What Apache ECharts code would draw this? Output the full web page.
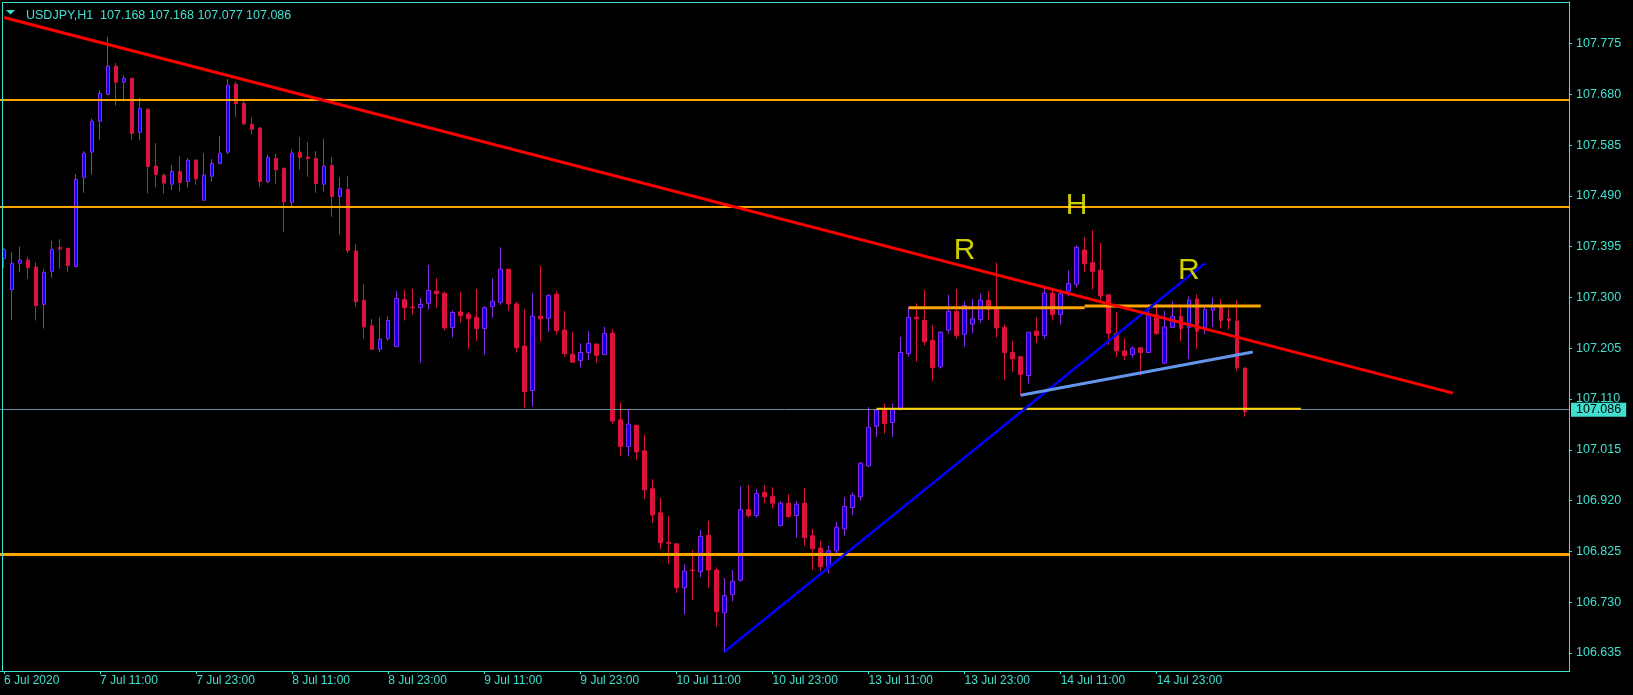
<!DOCTYPE html>
<html>
<head>
<meta charset="utf-8">
<script src="https://cdn.jsdelivr.net/npm/echarts@6/dist/echarts.min.js"></script>
<style>
html,body{margin:0;padding:0;background:#000;}
#chart{width:1633px;height:695px;}
</style>
</head>
<body>
<div id="chart"></div>
<script>
// ---- data ----
const symbolName = 'USDJPY,H1';
const opens = [107.373,107.315,107.364,107.370,107.357,107.287,107.349,107.394,107.392,107.358,
107.525,107.572,107.630,107.680,107.733,107.703,107.710,107.609,107.652,107.546,
107.529,107.512,107.536,107.517,107.557,107.482,107.527,107.551,107.572,107.699,
107.663,107.624,107.617,107.517,107.560,107.542,107.478,107.572,107.563,107.560,
107.512,107.547,107.489,107.502,107.387,107.295,107.247,107.203,107.223,107.208,
107.296,107.282,107.281,107.289,107.312,107.308,107.244,107.273,107.269,107.263,
107.242,107.283,107.291,107.353,107.288,107.209,107.126,107.265,107.261,107.306,
107.239,107.194,107.182,107.197,107.213,107.193,107.233,107.071,107.021,107.061,
107.013,106.942,106.897,106.842,106.839,106.757,106.790,106.787,106.855,106.790,
106.710,106.744,106.771,106.903,106.892,106.935,106.928,106.873,106.915,106.892,
106.915,106.854,106.831,106.795,106.826,106.867,106.907,106.927,106.985,107.059,
107.091,107.066,107.091,107.195,107.263,107.257,107.220,107.170,107.239,107.274,
107.231,107.250,107.259,107.295,107.278,107.244,107.197,107.189,107.154,107.237,
107.229,107.308,107.268,107.312,107.325,107.389,107.365,107.351,107.305,107.233,
107.200,107.193,107.206,107.197,107.268,107.177,107.244,107.265,107.244,107.297,
107.244,107.276,107.285,107.260,107.256,107.168];
const closes = [107.390,107.364,107.370,107.356,107.285,107.347,107.390,107.391,107.360,107.521,
107.570,107.630,107.682,107.733,107.703,107.710,107.607,107.654,107.545,107.530,
107.514,107.536,107.515,107.557,107.522,107.529,107.551,107.570,107.697,107.663,
107.625,107.615,107.517,107.562,107.539,107.479,107.570,107.562,107.560,107.513,
107.546,107.489,107.504,107.388,107.292,107.245,107.203,107.222,107.257,107.298,
107.281,107.281,107.287,107.313,107.307,107.243,107.272,107.266,107.260,107.242,
107.281,107.293,107.353,107.288,107.206,107.124,107.265,107.260,107.304,107.238,
107.195,107.179,107.197,107.214,107.192,107.233,107.069,107.021,107.063,107.011,
106.940,106.893,106.841,106.840,106.757,106.788,106.789,106.853,106.790,106.712,
106.742,106.769,106.903,106.892,106.933,106.927,106.915,106.915,106.890,106.913,
106.851,106.830,106.796,106.826,106.870,106.909,106.930,106.990,107.057,107.089,
107.064,107.092,107.197,107.263,107.260,107.217,107.169,107.235,107.274,107.229,
107.285,107.260,107.295,107.278,107.243,107.197,107.185,107.156,107.235,107.229,
107.308,107.268,107.307,107.326,107.394,107.363,107.349,107.303,107.233,107.200,
107.191,107.205,107.197,107.268,107.232,107.245,107.265,107.242,107.295,107.237,
107.277,107.283,107.257,107.257,107.169,107.086];
const highs = [107.393,107.385,107.395,107.376,107.366,107.353,107.406,107.409,107.393,107.531,
107.574,107.635,107.688,107.788,107.739,107.715,107.712,107.674,107.655,107.589,
107.532,107.548,107.565,107.561,107.559,107.570,107.559,107.602,107.709,107.704,
107.668,107.637,107.619,107.567,107.569,107.542,107.577,107.600,107.591,107.574,
107.597,107.563,107.525,107.527,107.400,107.325,107.260,107.263,107.265,107.312,
107.314,107.316,107.299,107.361,107.336,107.311,107.276,107.311,107.273,107.316,
107.284,107.336,107.394,107.353,107.292,107.278,107.308,107.359,107.306,107.312,
107.275,107.236,107.214,107.237,107.213,107.245,107.241,107.104,107.091,107.061,
107.043,106.960,106.925,106.891,106.840,106.801,106.827,106.865,106.882,106.795,
106.775,106.790,106.947,106.949,106.941,106.949,106.945,106.919,106.932,106.919,
106.943,106.867,106.845,106.836,106.880,106.926,106.935,106.992,107.095,107.089,
107.102,107.102,107.226,107.282,107.289,107.314,107.248,107.237,107.305,107.316,
107.292,107.297,107.307,107.312,107.365,107.250,107.219,107.190,107.235,107.263,
107.321,107.317,107.315,107.351,107.398,107.413,107.426,107.402,107.305,107.273,
107.224,107.209,107.206,107.287,107.289,107.275,107.293,107.282,107.302,107.306,
107.282,107.300,107.297,107.279,107.295,107.168];
const lows = [107.355,107.258,107.348,107.335,107.257,107.242,107.337,107.354,107.348,107.356,
107.496,107.530,107.595,107.678,107.659,107.667,107.594,107.594,107.495,107.506,
107.494,107.501,107.499,107.506,107.511,107.482,107.517,107.549,107.568,107.638,
107.622,107.605,107.507,107.514,107.513,107.423,107.468,107.539,107.526,107.496,
107.498,107.451,107.418,107.383,107.283,107.223,107.203,107.198,107.219,107.208,
107.257,107.268,107.178,107.277,107.281,107.238,107.225,107.253,107.204,107.219,
107.193,107.262,107.286,107.275,107.197,107.094,107.096,107.217,107.236,107.231,
107.189,107.179,107.169,107.183,107.178,107.193,107.063,107.003,107.003,106.996,
106.923,106.878,106.829,106.801,106.747,106.707,106.734,106.776,106.757,106.684,
106.635,106.731,106.768,106.888,106.888,106.915,106.905,106.873,106.888,106.850,
106.835,106.790,106.788,106.784,106.817,106.854,106.893,106.920,106.983,107.039,
107.045,107.039,107.088,107.189,107.180,107.210,107.144,107.167,107.232,107.223,
107.208,107.233,107.253,107.258,107.225,107.146,107.161,107.116,107.139,107.215,
107.223,107.257,107.249,107.302,107.319,107.348,107.315,107.295,107.211,107.189,
107.183,107.187,107.154,107.197,107.232,107.177,107.243,107.218,107.185,107.204,
107.231,107.245,107.242,107.240,107.163,107.077];

// time-axis tick labels (one every 12 bars)
const tickLabels = ['6 Jul 2020','7 Jul 11:00','7 Jul 23:00','8 Jul 11:00','8 Jul 23:00','9 Jul 11:00',
  '9 Jul 23:00','10 Jul 11:00','10 Jul 23:00','13 Jul 11:00','13 Jul 23:00','14 Jul 11:00','14 Jul 23:00'];
// price-axis tick labels
const priceTicks = [106.635,106.730,106.825,106.920,107.015,107.110,107.205,107.300,107.395,107.490,107.585,107.680,107.775];

// drawn objects: [barIndex, price]
const redTrend = [[0,107.824],[181,107.121]];
const blueTrend = [[90,106.637],[150,107.364]];
const lightBlueTrend = [[127,107.117],[156,107.198]];
const orangeLevels = [107.674,107.470];
const orangeLevelThick = 106.822;
const orangeShortA = [[113,107.281],[135,107.281]];
const orangeShortB = [[135,107.284],[157,107.284]];
const yellowLevel = [[109,107.092],[162,107.092]];
const annotations = [[120,107.387,'R'],[134,107.472,'H'],[148,107.351,'R']];

// hourly categories (weekend skipped), including empty future bars on the right
const months = ['Jan','Feb','Mar','Apr','May','Jun','Jul','Aug','Sep','Oct','Nov','Dec'];
const totalSlots = 196;
const categories = [];
let t = Date.UTC(2020,6,6,23);
while (categories.length < totalSlots) {
  const d = new Date(t);
  const dow = d.getUTCDay();
  if (dow !== 0 && dow !== 6) {
    categories.push(d.getUTCDate()+' '+months[d.getUTCMonth()]+' '+String(d.getUTCHours()).padStart(2,'0')+':00');
  }
  t += 3600000;
}

const candleData = opens.map((o,i)=>[o, closes[i], lows[i], highs[i]]);
const last = opens.length-1;
const fmt = v => v.toFixed(3);
const CYAN = '#40E0D0';
const FONT = 'Liberation Sans, Arial, sans-serif';

const isLabelIdx = (i) => i % 12 === 0 && i/12 < tickLabels.length;

function seg(data, color, width, z) {
  return {type:'line', data:data, symbol:'none', silent:true, animation:false, z:z||5,
    lineStyle:{color:color, width:width, cap:'butt'}};
}

const chart = echarts.init(document.getElementById('chart'), null, {renderer:'canvas'});
chart.setOption({
  backgroundColor:'#000',
  animation:false,
  title:{
    text: symbolName+'  '+fmt(opens[last])+' '+fmt(highs[last])+' '+fmt(lows[last])+' '+fmt(closes[last]),
    left:21, top:4,
    textStyle:{color:CYAN, fontSize:12.5, fontWeight:'normal', fontFamily:FONT}
  },
  graphic:[
    {type:'rect', shape:{x:2.5,y:2.5,width:1567,height:669}, style:{fill:null, stroke:CYAN, lineWidth:1}, silent:true, z:100},
    {type:'polygon', shape:{points:[[6,10],[15,10],[10.5,14.5]]}, style:{fill:CYAN}, silent:true}
  ],
  grid:{left:-1, right:64, top:2, bottom:24, containLabel:false},
  xAxis:{
    type:'category', data:categories, boundaryGap:true,
    axisLine:{show:true, lineStyle:{color:CYAN}},
    axisTick:{show:true, alignWithLabel:true, length:3, interval:(i)=>isLabelIdx(i), lineStyle:{color:CYAN}},
    axisLabel:{show:true, interval:(i)=>isLabelIdx(i), formatter:(v,i)=> isLabelIdx(i) ? tickLabels[i/12] : '',
      color:CYAN, fontSize:12, fontFamily:FONT, align:'left', margin:4},
    splitLine:{show:false}
  },
  yAxis:{
    type:'value', position:'right', min:106.601, max:107.853, scale:true,
    axisLine:{show:true, lineStyle:{color:CYAN}},
    axisTick:{show:true, length:3, customValues:priceTicks, lineStyle:{color:CYAN}},
    axisLabel:{show:true, customValues:priceTicks, formatter:(v)=>fmt(v), color:CYAN, fontSize:12.5, fontFamily:FONT, margin:7},
    splitLine:{show:false}
  },
  series:[
    {
      type:'candlestick', data:candleData, barWidth:4, z:3,
      itemStyle:{color:'#0000FF', borderColor:'#8A2BE2', color0:'#DC143C', borderColor0:'#DC143C', borderWidth:1},
      markLine:{
        silent:true, symbol:['none','none'], animation:false,
        data:[
          {yAxis:closes[last], lineStyle:{color:'#778899', width:1, type:'solid'},
            label:{show:true, position:'end', distance:2, formatter:()=>fmt(closes[last]),
              backgroundColor:CYAN, color:'#000', fontSize:12.5, fontFamily:FONT, padding:[1,5,0,5]}},
          {yAxis:orangeLevels[0], lineStyle:{color:'#FFA500', width:2, type:'solid'}, label:{show:false}},
          {yAxis:orangeLevels[1], lineStyle:{color:'#FFA500', width:2, type:'solid'}, label:{show:false}},
          {yAxis:orangeLevelThick, lineStyle:{color:'#FFA500', width:3, type:'solid'}, label:{show:false}}
        ]
      }
    },
    seg(orangeShortA, '#FFA500', 3),
    seg(orangeShortB, '#FFA500', 3),
    seg(yellowLevel, '#FFD700', 2),
    seg(blueTrend, '#0000FF', 2.5, 6),
    seg(lightBlueTrend, '#6495ED', 3, 6),
    seg(redTrend, '#FF0000', 3, 7),
    {
      type:'scatter', data:annotations, symbolSize:1, silent:true, z:8,
      itemStyle:{color:'rgba(0,0,0,0)'},
      label:{show:true, position:'inside', formatter:(p)=>p.data[2], color:'#FFFF00', fontSize:30, fontFamily:FONT}
    }
  ]
});
</script>
</body>
</html>
